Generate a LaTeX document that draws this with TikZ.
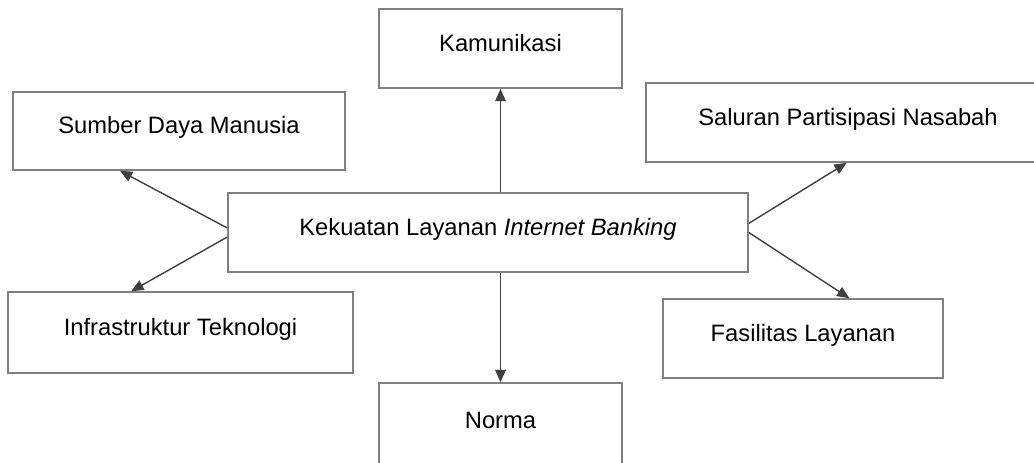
\documentclass[tikz,border=0pt]{standalone}
\usepackage{fontspec}
\setmainfont{Liberation Sans}
\usetikzlibrary{arrows.meta}

\tikzset{
  kotak/.style={draw=black!50, line width=0.9pt, fill=white, text height=10pt, text depth=7pt,
                font=\fontsize{13.5}{16}\selectfont},
  panah/.style={draw=black!75, line width=0.8pt, -{Triangle[length=7pt,width=6pt]}}
}

\begin{document}
\begin{tikzpicture}
                        \useasboundingbox (0,0) rectangle (20.68,9.24);
                        \node[kotak, minimum width=10.40cm, minimum height=1.58cm] (kekuatan) at ( 9.76,4.59) {Kekuatan Layanan \textit{Internet Banking}};
                        \node[kotak, minimum width=4.86cm,  minimum height=1.58cm] (komunikasi) at (10.01,8.27) {Kamunikasi};
                        \node[kotak, minimum width=6.64cm,  minimum height=1.56cm] (sdm)       at ( 3.58,6.62) {Sumber Daya Manusia};
                        \node[kotak, minimum width=8.40cm,  minimum height=1.58cm] (saluran)   at (17.12,6.79) {\hspace*{-0.32cm}Saluran Partisipasi Nasabah};
                        \node[kotak, minimum width=6.90cm,  minimum height=1.62cm] (infra)     at ( 3.61,2.59) {Infrastruktur Teknologi};
                        \node[kotak, minimum width=5.60cm,  minimum height=1.58cm] (fasilitas) at (16.06,2.47) {Fasilitas Layanan};
                        \node[kotak, minimum width=4.86cm,  minimum height=1.70cm] (norma)     at (10.01,0.73) {Norma};
                        \draw[panah] (kekuatan.north -| komunikasi.south) -- (komunikasi.south);
                        \draw[panah] (kekuatan.south -| norma.north) -- (norma.north);
                        \draw[panah] (kekuatan.179) -- (sdm.-146);
                        \draw[panah] (kekuatan.181) -- (infra.140);
                        \draw[panah] (kekuatan.2) -- (saluran.-103);
                        \draw[panah] (kekuatan.0) -- (fasilitas.41);
                \end{tikzpicture}
\end{document}
